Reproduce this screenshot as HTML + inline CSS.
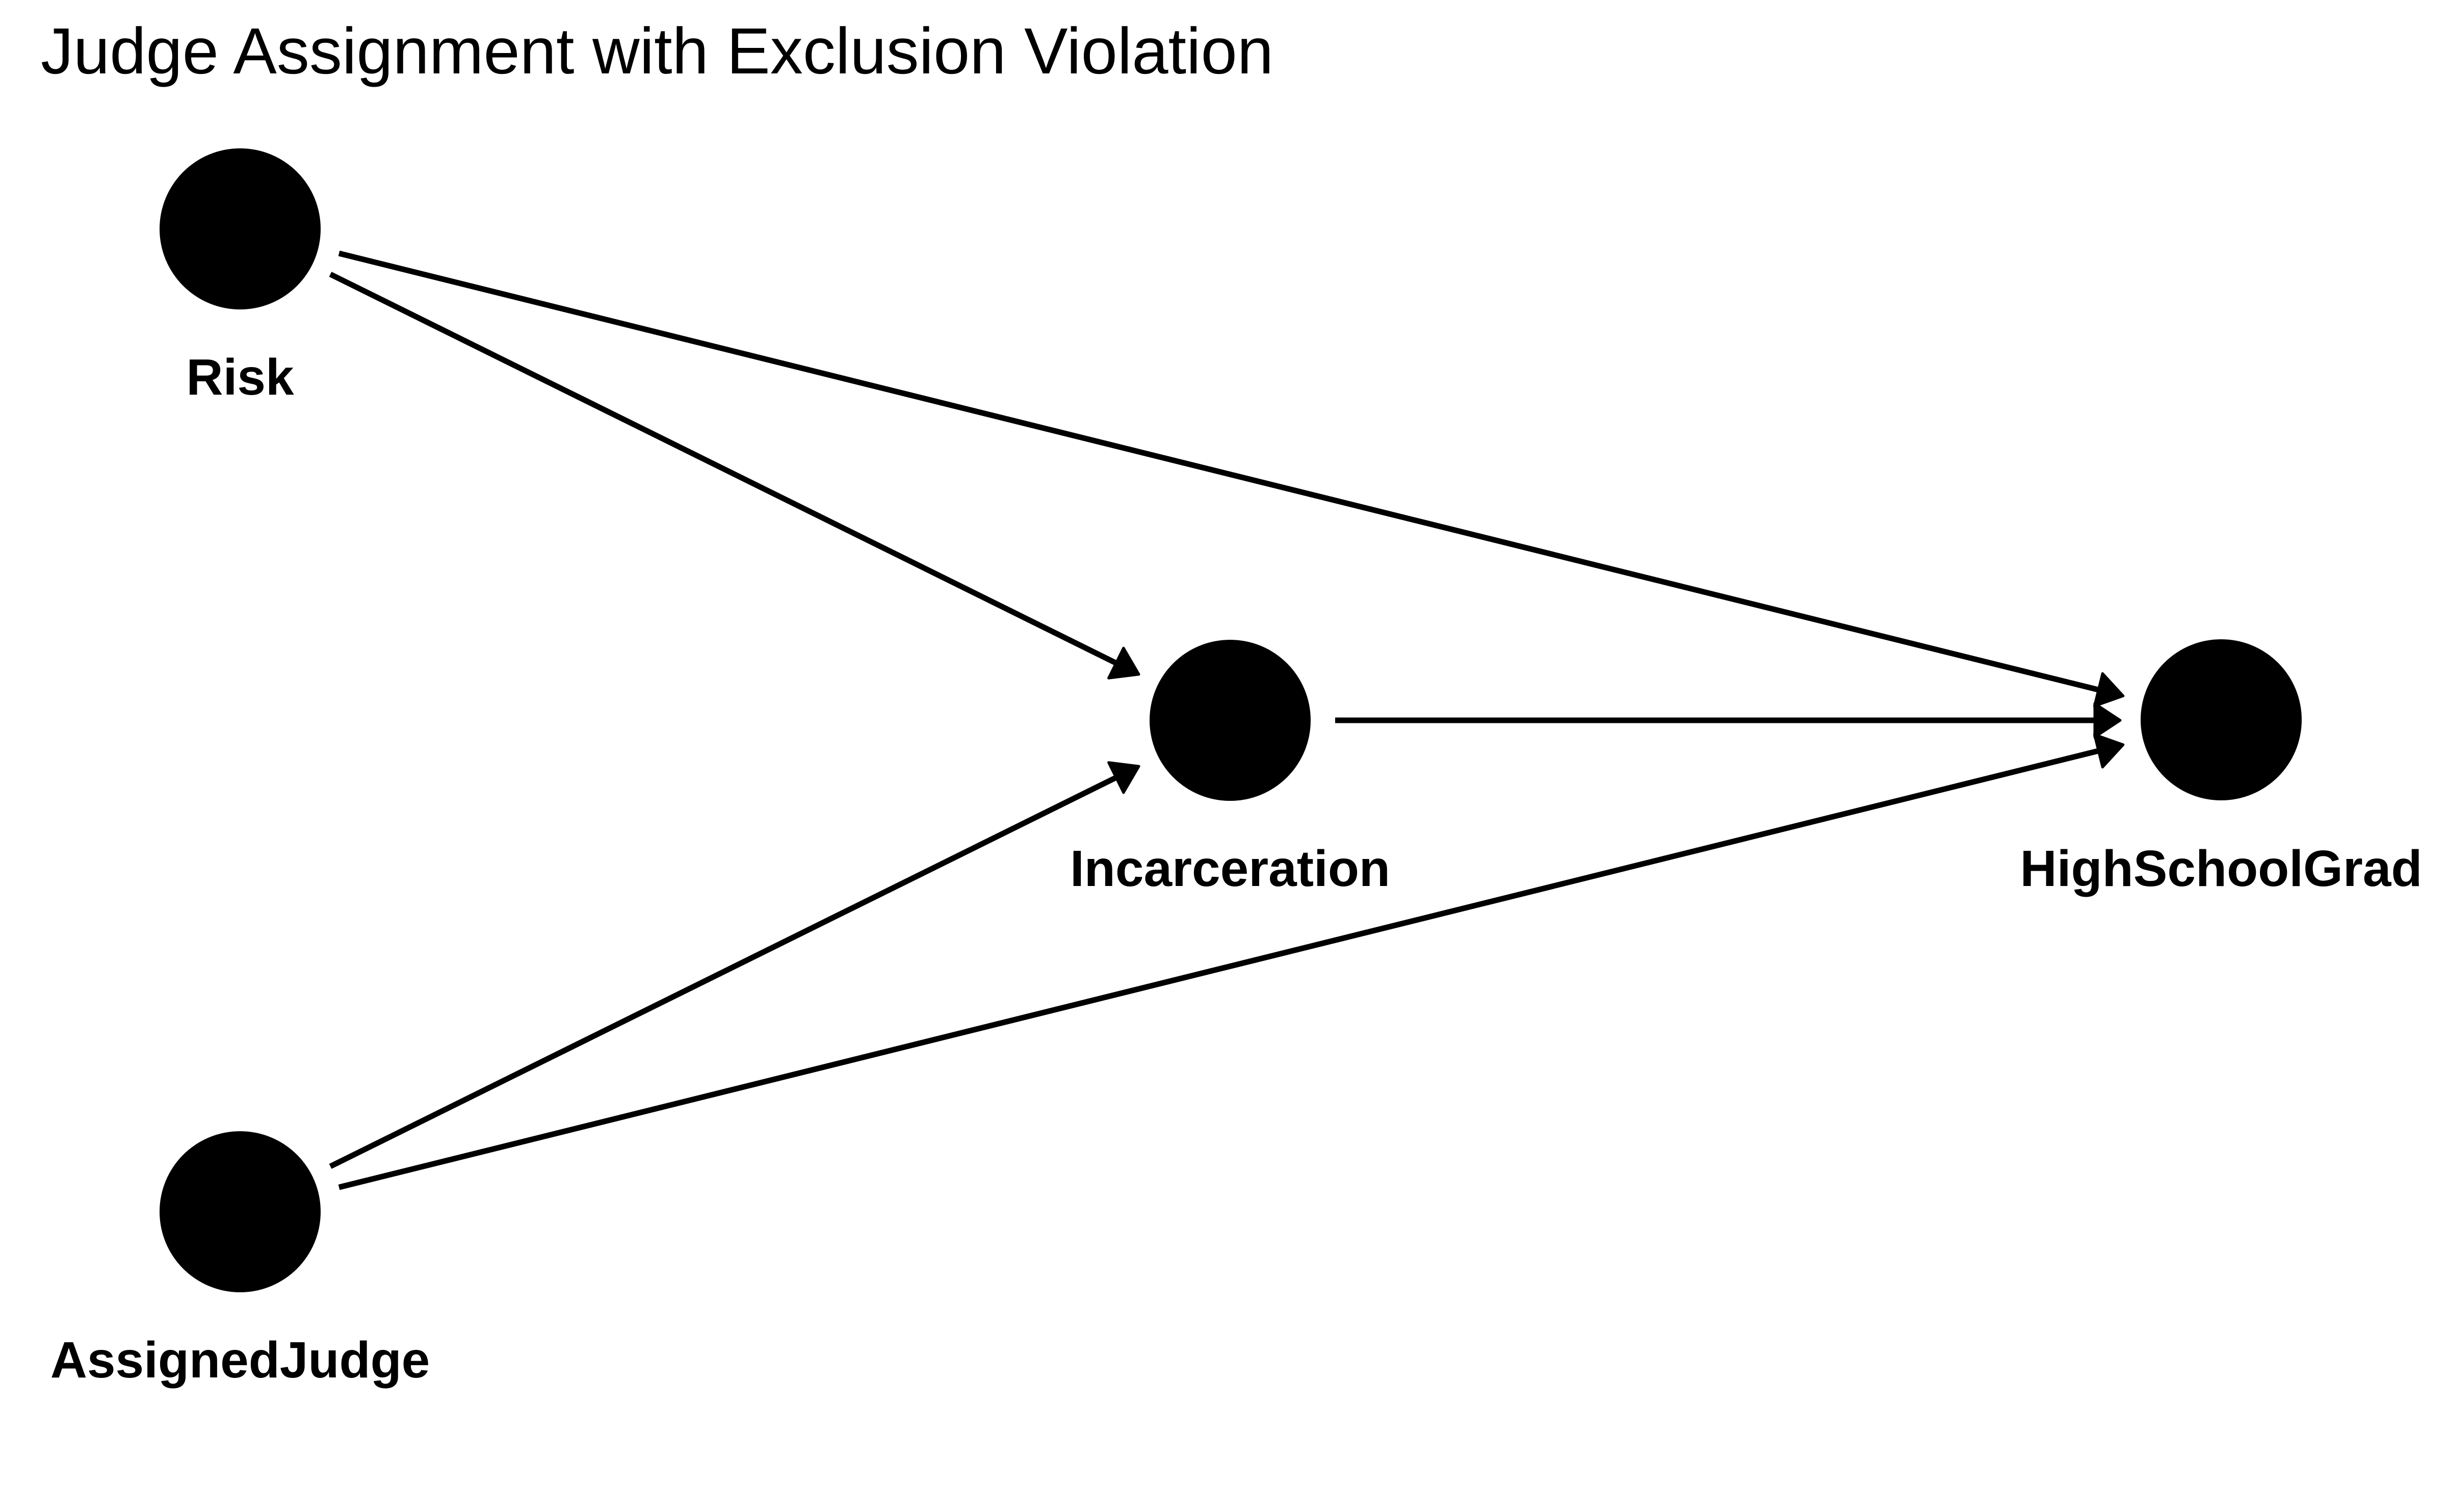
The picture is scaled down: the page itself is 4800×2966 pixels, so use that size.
<!DOCTYPE html>
<html><head><meta charset="utf-8"><style>
html,body{margin:0;padding:0;background:#fff;}
svg{display:block;}
text{font-family:"Liberation Sans",Arial,sans-serif;fill:#000;}
</style></head><body>
<svg width="4800" height="2966" viewBox="0 0 4800 2966" xmlns="http://www.w3.org/2000/svg">
<defs>
<marker id="a" markerUnits="userSpaceOnUse" viewBox="-5 -40 62 80" markerWidth="62" markerHeight="80" refX="12" refY="0" orient="auto">
<path d="M0,-33 L50,0 L0,33 Z" fill="#000" stroke="#000" stroke-width="5" stroke-linejoin="round"/>
</marker>
</defs>
<rect width="4800" height="2966" fill="#fff"/>
<text x="80" y="144" font-size="128" textLength="2418" lengthAdjust="spacingAndGlyphs">Judge Assignment with Exclusion Violation</text>

<g stroke="#000" stroke-width="11" fill="none" marker-end="url(#a)">
<line x1="665" y1="497" x2="4128" y2="1356"/>
<line x1="648" y1="538" x2="2200" y2="1306"/>
<line x1="2619" y1="1413" x2="4121" y2="1413"/>
<line x1="648" y1="2288" x2="2200" y2="1520"/>
<line x1="665" y1="2329" x2="4128" y2="1470"/>
</g>

<g fill="#000">
<ellipse cx="471" cy="449" rx="158" ry="158"/>
<ellipse cx="2413" cy="1413" rx="158" ry="158"/>
<ellipse cx="4357" cy="1412" rx="158" ry="158"/>
<ellipse cx="471" cy="2377" rx="158" ry="158"/>
</g>

<g font-size="100" font-weight="bold" text-anchor="middle">
<text x="471" y="774">Risk</text>
<text x="2413" y="1738">Incarceration</text>
<text x="4357" y="1738">HighSchoolGrad</text>
<text x="471" y="2702">AssignedJudge</text>
</g>
</svg>
</body></html>
